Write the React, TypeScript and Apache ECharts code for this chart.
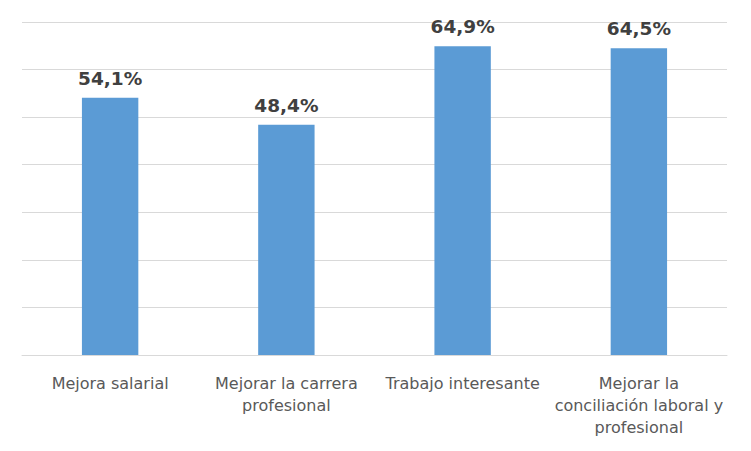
import React, { useEffect, useRef } from "react";
import * as echarts from "echarts";

const categories: string[] = [
  "Mejora salarial",
  "Mejorar la carrera\nprofesional",
  "Trabajo interesante",
  "Mejorar la\nconciliación laboral y\nprofesional",
];
const values: number[] = [54.1, 48.4, 64.9, 64.5];
const yTicks = { min: 0, max: 70, interval: 10 };

export default function App() {
  const ref = useRef<HTMLDivElement>(null);
  useEffect(() => {
    if (!ref.current) return;
    const chart = echarts.init(ref.current, undefined, { renderer: "svg" });
    chart.setOption({
      animation: false,
      backgroundColor: "#ffffff",
      grid: { left: 22, right: 24, top: 22, bottom: 96, containLabel: false },
      xAxis: {
        type: "category",
        data: categories,
        axisLine: { show: true, lineStyle: { color: "#D9D9D9", width: 1 } },
        axisTick: { show: false },
        axisLabel: {
          interval: 0,
          color: "#595959",
          fontFamily: "DejaVu Sans",
          fontSize: 16,
          lineHeight: 22,
          margin: 17,
        },
      },
      yAxis: {
        type: "value",
        min: yTicks.min,
        max: yTicks.max,
        interval: yTicks.interval,
        axisLabel: { show: false },
        axisLine: { show: false },
        axisTick: { show: false },
        splitLine: { show: true, lineStyle: { color: "#D9D9D9", width: 1 } },
      },
      series: [
        {
          type: "bar",
          data: values,
          barWidth: "32%",
          itemStyle: { color: "#5B9BD5" },
          label: {
            show: true,
            position: "top",
            distance: 10,
            color: "#404040",
            fontFamily: "DejaVu Sans",
            fontWeight: "bold",
            fontSize: 18.5,
            formatter: (p: any) => p.value.toFixed(1).replace(".", ",") + "%",
          },
        },
      ],
    });
    return () => chart.dispose();
  }, []);
  return (
    <div
      ref={ref}
      style={{ position: "fixed", left: 0, top: 0, width: 751, height: 451 }}
    />
  );
}
